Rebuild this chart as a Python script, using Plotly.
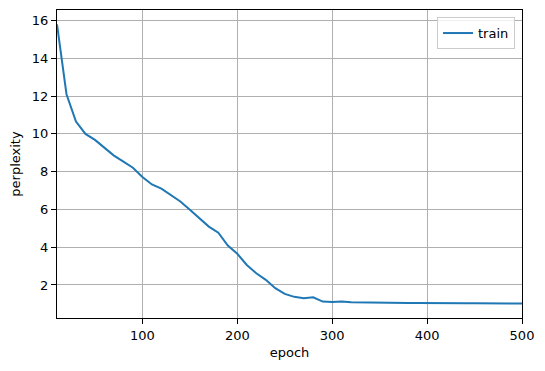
import plotly.graph_objects as go

epochs = list(range(10, 510, 10))
perplexity = [15.8, 12.1, 10.65, 10.0, 9.68, 9.25, 8.85, 8.53, 8.21, 7.72,
              7.32, 7.1, 6.77, 6.42, 5.98, 5.55, 5.09, 4.77, 4.09, 3.65,
              3.06, 2.62, 2.27, 1.83, 1.53, 1.37, 1.30, 1.35, 1.12, 1.1,
              1.12, 1.08, 1.07, 1.06, 1.05, 1.05, 1.05, 1.05, 1.05, 1.04,
              1.04, 1.04, 1.03, 1.03, 1.03, 1.03, 1.03, 1.03, 1.02, 1.02]
series_name = "train"
x_ticks = [100, 200, 300, 400, 500]
y_ticks = [2, 4, 6, 8, 10, 12, 14, 16]

fig = go.Figure()
fig.add_trace(go.Scatter(x=epochs, y=perplexity, mode="lines", name=series_name,
                         line=dict(color="#1f77b4", width=2)))

axis_common = dict(showline=True, linecolor="black", linewidth=1, mirror=True,
                   ticks="outside", ticklen=5, tickwidth=1, tickcolor="black",
                   showgrid=True, gridcolor="#b0b0b0", gridwidth=1, zeroline=False,
                   tickfont=dict(family="DejaVu Sans", size=13, color="black"))

fig.update_xaxes(range=[10, 500], tickvals=x_ticks,
                 title=dict(text="epoch", font=dict(family="DejaVu Sans", size=13, color="black"), standoff=6),
                 **axis_common)
fig.update_yaxes(range=[0.25, 16.56], tickvals=y_ticks,
                 title=dict(text="perplexity", font=dict(family="DejaVu Sans", size=13, color="black"), standoff=8),
                 **axis_common)

fig.update_layout(
    width=545, height=371,
    margin=dict(l=57, r=23, t=10, b=53),
    plot_bgcolor="white", paper_bgcolor="white",
    showlegend=True,
    legend=dict(x=0.985, y=0.977, xanchor="right", yanchor="top",
                bgcolor="rgba(255,255,255,0.8)", bordercolor="#cccccc", borderwidth=1,
                font=dict(family="DejaVu Sans", size=13, color="black")),
)

fig.write_html("out.html")
